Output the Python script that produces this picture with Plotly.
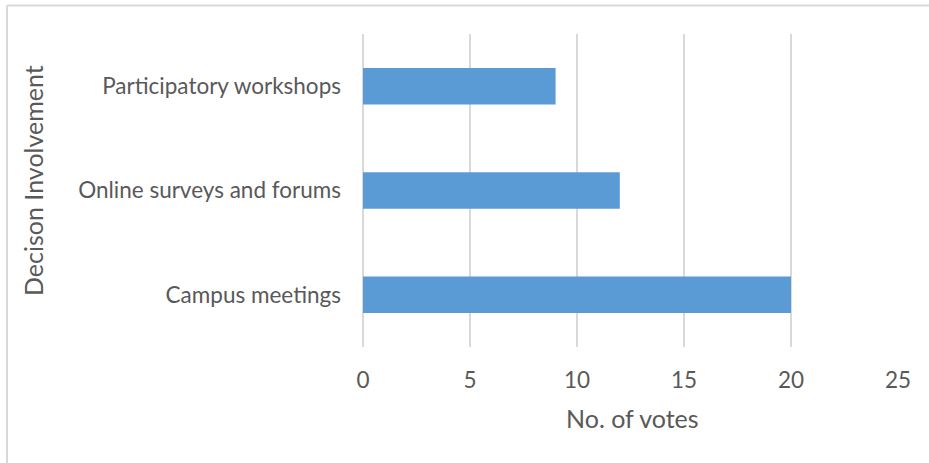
import plotly.graph_objects as go

categories = ["Campus meetings", "Online surveys and forums", "Participatory workshops"]
votes = [20, 12, 9]
x_ticks = [0, 5, 10, 15, 20, 25]

W, H = 929, 463
L, R, T, B = 363, 31, 34, 116
pw, ph = W - L - R, H - T - B

font_family = "Lato, 'Open Sans', sans-serif"
grey_text = "#595959"

fig = go.Figure(
    go.Bar(
        y=categories,
        x=votes,
        orientation="h",
        width=0.35,
        marker=dict(color="#5B9BD5", line=dict(width=0)),
        hoverinfo="x+y",
    )
)

fig.update_layout(
    width=W,
    height=H,
    margin=dict(l=L, r=R, t=T, b=B),
    paper_bgcolor="white",
    plot_bgcolor="white",
    showlegend=False,
    font=dict(family=font_family, color=grey_text, size=22),
    xaxis=dict(
        range=[0, 25],
        tickvals=x_ticks,
        ticktext=[str(v) for v in x_ticks],
        showgrid=True,
        gridcolor="#d9d9d9",
        gridwidth=2,
        zeroline=True,
        zerolinecolor="#d9d9d9",
        zerolinewidth=2,
        showline=False,
        ticks="",
        ticklabelstandoff=17,
        tickfont=dict(size=22.5, color=grey_text),
        fixedrange=True,
    ),
    yaxis=dict(
        categoryorder="array",
        categoryarray=categories,
        showgrid=False,
        zeroline=False,
        showline=False,
        ticks="",
        ticklabelstandoff=21,
        tickfont=dict(size=22.5, color=grey_text),
        fixedrange=True,
    ),
    annotations=[
        dict(
            text="No. of votes",
            xref="paper", yref="paper",
            x=(632 - L) / pw, y=(H - B - 418) / ph,
            xanchor="center", yanchor="middle",
            showarrow=False,
            font=dict(size=25, color=grey_text, family=font_family),
        ),
        dict(
            text="Decison Involvement",
            xref="paper", yref="paper",
            x=(33 - L) / pw, y=(H - B - 181) / ph,
            xanchor="center", yanchor="middle",
            textangle=-90,
            showarrow=False,
            font=dict(size=25, color=grey_text, family=font_family),
        ),
    ],
    shapes=[
        # chart frame: top and left edges
        dict(type="line", xref="paper", yref="paper",
             x0=(7 - L) / pw, x1=(W + 5 - L) / pw,
             y0=(H - B - 5.5) / ph, y1=(H - B - 5.5) / ph,
             line=dict(color="#d9d9d9", width=2)),
        dict(type="line", xref="paper", yref="paper",
             x0=(7 - L) / pw, x1=(7 - L) / pw,
             y0=(H - B - 5.5) / ph, y1=(H - B - H - 5) / ph,
             line=dict(color="#d9d9d9", width=2)),
    ],
)

fig.write_html("out.html")
